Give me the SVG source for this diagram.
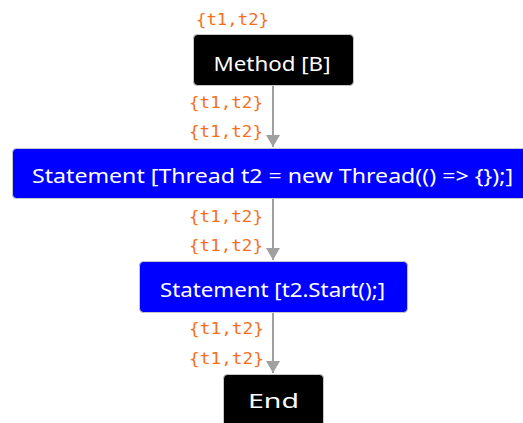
<svg xmlns="http://www.w3.org/2000/svg" width="523" height="423" viewBox="0 0 523 423">
<style>
.node rect{stroke:#c8c8c8;stroke-width:1}
.blk{fill:#000}
.blu{fill:#0000ff}
.nt{font-family:"Noto Sans","Open Sans","Liberation Sans",sans-serif;font-size:19px;fill:#fff;text-anchor:middle}
.lbl{font-family:"DejaVu Sans Mono","Liberation Mono",monospace;font-size:16px;fill:#f5701e;text-anchor:end}
.edge{stroke:#a0a0a0;stroke-width:2;fill:none}
</style>
<defs>
<marker id="ah" viewBox="0 0 12 18" refX="12" refY="9" markerWidth="12" markerHeight="18" markerUnits="userSpaceOnUse" orient="auto">
<path d="M0,2 L12,9 L0,16 Z" fill="#a0a0a0"/>
</marker>
</defs>
<rect width="523" height="423" fill="#fff"/>
<g id="edges">
<path class="edge" d="M273,85 V147" marker-end="url(#ah)"/>
<path class="edge" d="M273,198 V260" marker-end="url(#ah)"/>
<path class="edge" d="M273,313 V373" marker-end="url(#ah)"/>
</g>
<g id="labels">
<text class="lbl" x="269" y="25" textLength="73" lengthAdjust="spacingAndGlyphs">{t1,t2}</text>
<text class="lbl" x="263" y="108" textLength="74" lengthAdjust="spacingAndGlyphs">{t1,t2}</text>
<text class="lbl" x="263" y="137" textLength="74" lengthAdjust="spacingAndGlyphs">{t1,t2}</text>
<text class="lbl" x="263" y="222" textLength="74" lengthAdjust="spacingAndGlyphs">{t1,t2}</text>
<text class="lbl" x="263" y="251" textLength="74" lengthAdjust="spacingAndGlyphs">{t1,t2}</text>
<text class="lbl" x="264" y="334" textLength="75" lengthAdjust="spacingAndGlyphs">{t1,t2}</text>
<text class="lbl" x="264" y="364" textLength="75" lengthAdjust="spacingAndGlyphs">{t1,t2}</text>
</g>
<g id="method" class="node">
<rect class="blk" x="193.5" y="34.5" width="160" height="51" rx="4"/>
<text class="nt" x="272" y="71" textLength="117" lengthAdjust="spacingAndGlyphs">Method [B]</text>
</g>
<g id="stmt1" class="node">
<rect class="blu" x="12.5" y="148.5" width="521" height="50" rx="4"/>
<text class="nt" x="272.5" y="183" textLength="481" lengthAdjust="spacingAndGlyphs">Statement [Thread t2 = new Thread(() =&gt; {});]</text>
</g>
<g id="stmt2" class="node">
<rect class="blu" x="139.5" y="261.5" width="268" height="51" rx="4"/>
<text class="nt" x="272.5" y="297" textLength="225" lengthAdjust="spacingAndGlyphs">Statement [t2.Start();]</text>
</g>
<g id="end" class="node">
<rect class="blk" x="223.5" y="374.5" width="100" height="56" rx="4"/>
<text class="nt" x="273.5" y="408" textLength="51" lengthAdjust="spacingAndGlyphs">End</text>
</g>
</svg>
